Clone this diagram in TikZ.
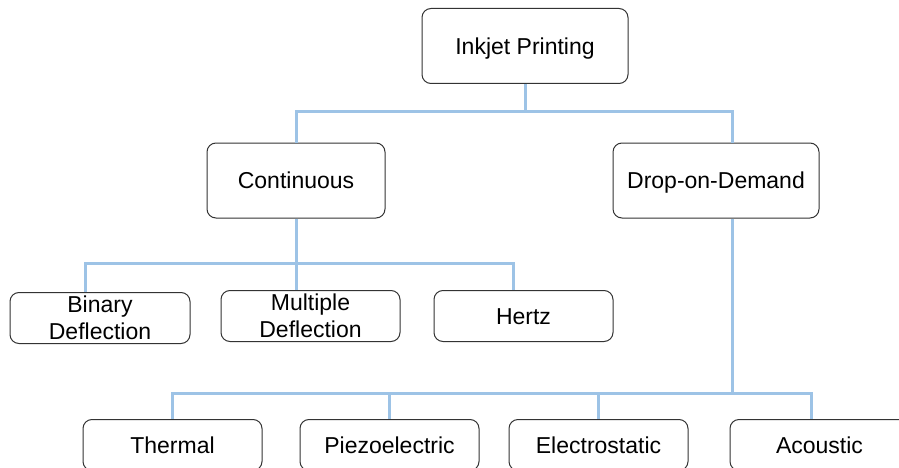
\documentclass[tikz,border=0pt]{standalone}
\usepackage{fontspec}
\setmainfont{Liberation Sans}
\definecolor{linkblue}{RGB}{157,195,230}

\begin{document}
\begin{tikzpicture}[x=1pt, y=-1pt,
    box/.style={draw=black!80, line width=1pt, rounded corners=9pt,
        align=center, inner sep=0pt, font=\fontsize{23}{27}\selectfont},
    oneline/.style={text height=16.5pt, text depth=0pt},
    bigbox/.style={box, oneline, minimum height=75pt},
    smallbox/.style={box, minimum width=179pt, minimum height=51pt}]

\tikzset{link/.style={draw=linkblue, line width=3pt}}

\useasboundingbox (0,0) rectangle (899,468);

\node(inkjet)[bigbox, minimum width=206pt] at (525, 46) {Inkjet Printing};

\node(cont)[bigbox, minimum width=178pt] at (296, 180.5) {Continuous};
\node(dod)[bigbox, minimum width=206pt] at (716, 180.5) {Drop-on-Demand};

\node(bin)[smallbox, minimum width=180pt] at (100, 318) {Binary\\Deflection};
\node(mult)[smallbox] at (310.5, 316) {Multiple\\Deflection};
\node(hertz)[smallbox, oneline] at (523.5, 316) {Hertz};

\node(therm)[smallbox, oneline] at (172.5, 445) {Thermal};
\node(piezo)[smallbox, oneline] at (389.5, 445) {Piezoelectric};
\node(elec)[smallbox, oneline] at (598.5, 445) {Electrostatic};
\node(acou)[smallbox, oneline] at (819.5, 445) {Acoustic};

\coordinate(j0) at (525, 112);
\coordinate(j1) at (296, 263);
\coordinate(j2) at (732, 393);

\draw[link] (inkjet.south) -- (j0) -| (cont.north);
\draw[link] (j0) -| ([xshift=16pt]dod.north);

\draw[link] (cont.south) -- (cont.south |- mult.north);
\draw[link] (j1) -| ([xshift=-15pt]bin.north);
\draw[link] (j1) -| ([xshift=-10.5pt]hertz.north);

\draw[link] ([xshift=16pt]dod.south) -- (j2);
\draw[link] (j2) -| (therm.north);
\draw[link] (j2) -| (piezo.north);
\draw[link] (j2) -| (elec.north);
\draw[link] (j2) -| ([xshift=-8.5pt]acou.north);
\end{tikzpicture}
\end{document}
